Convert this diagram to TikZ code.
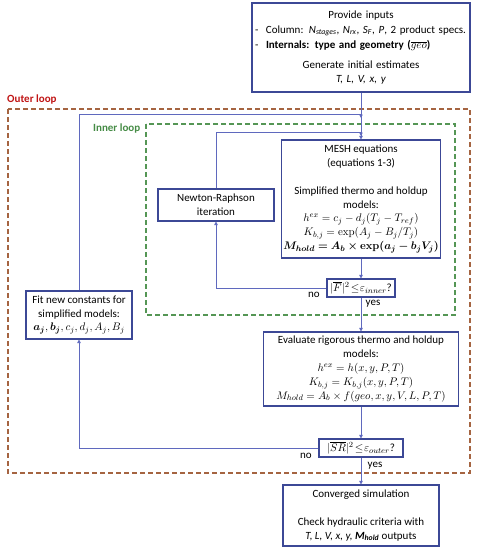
\documentclass[tikz,border=0pt]{standalone}
\usepackage[no-math]{fontspec}
\setmainfont{Carlito}
\usepackage{bm}
\usetikzlibrary{arrows.meta}
\definecolor{boxc}{RGB}{60,72,150}
\definecolor{linec}{RGB}{95,105,190}
\definecolor{outerc}{RGB}{165,100,65}
\definecolor{innerc}{RGB}{85,150,85}
\definecolor{outert}{RGB}{192,20,20}
\definecolor{innert}{RGB}{70,140,70}
\newcommand\dfont{\fontsize{11}{13.8}\selectfont}
\begin{document}
\begin{tikzpicture}[x=1pt,y=-1pt,
  box/.style={draw=boxc,line width=1.1pt,fill=white,inner sep=2pt,align=center,font=\dfont},
  conn/.style={draw=linec,line width=0.8pt,-{Triangle[length=3.5pt,width=3.5pt]}},
  loopbox/.style={line width=1.1pt,dash pattern=on 5pt off 3pt},
  lbl/.style={font=\dfont,inner sep=1pt}]
\useasboundingbox (0,0) rectangle (478,550);
% loop frames
\draw[loopbox,draw=outerc] (8,109) rectangle (470,473);
\draw[loopbox,draw=innerc] (146,124) rectangle (455,315);
\node[font=\dfont\bfseries,text=outert,anchor=west,inner sep=0pt] (olab) at (7,100) {Outer loop};
\node[font=\dfont\bfseries,text=innert,anchor=west,inner sep=0pt] (ilab) at (93,128) {Inner loop};
% boxes
\node[box,minimum width=218,minimum height=89,text width=212pt,align=left] (in) at (361,47.5) {%
  {\centering Provide inputs\par}
  \vspace{1.2pt}
  \makebox[11pt][l]{-}Column: \textit{N}\textsubscript{\textit{stages}}, \textit{N}\textsubscript{\textit{rx}}, \textit{S}\textsubscript{\textit{F}}, \textit{P}, 2 product specs.\par
  \vspace{1.2pt}
  \makebox[11pt][l]{-}\textbf{Internals: type and geometry ($\overline{geo}$)}\par
  \vspace{7pt}
  {\centering Generate initial estimates\\ \textit{T, L, V, x, y}\par}
  \vspace*{8pt}};
\node[box,minimum width=154,minimum height=118] (mesh) at (361,199) {MESH equations\\(equations 1-3)\\[13.8pt]Simplified thermo and holdup\\models:\\$h^{ex} = c_j - d_j(T_j - T_{ref})$\\$K_{b,j} = \exp(A_j - B_j/T_j)$\\$\bm{M_{hold} = A_b\times \exp(a_j - b_jV_j)}$};
\node[box,minimum width=116,minimum height=32] (nr) at (216,205) {Newton-Raphson\\iteration};
\node[box,minimum width=68,minimum height=18,inner sep=1pt] (itest) at (361,288) {$|\overline{F}|^{2}\mkern2mu{\le}\mkern1mu\varepsilon_{inner}$?};
\node[box,minimum width=195,minimum height=74] (eval) at (361,369) {Evaluate rigorous thermo and holdup\\models:\\$h^{ex} = h(x,y,P,T)$\\$K_{b,j} = K_{b,j}(x,y,P,T)$\\$M_{hold} = A_b\times f(geo,x,y,V,L,P,T)$};
\node[box,minimum width=84,minimum height=18,inner sep=1pt] (otest) at (361,448) {$|\overline{SR}|^{2}\mkern2mu{\le}\mkern1mu\varepsilon_{outer}$?};
\node[box,minimum width=156,minimum height=61] (conv) at (361,515.5) {Converged simulation\\[13.8pt]Check hydraulic criteria with\\\textit{T, L, V, x, y, }\textbf{\textit{M}\textsubscript{\textit{hold}}} outputs};
\node[box,minimum width=106,minimum height=48] (fit) at (79,315) {Fit new constants for\\simplified models:\\$\bm{a_j}, \bm{b_j}, c_j, d_j, A_j, B_j$};
% connectors
\coordinate (j1) at (361,114);
\coordinate (j1b) at (361,118);
\coordinate (j2) at (361,132);
\coordinate (j2b) at (361,136);
\draw[conn] (in.south) -- (mesh.north);
\draw[conn] (otest.west) -| (fit.south);
\draw[conn] (fit.north) |- (j1) -- (j1b);
\draw[conn] (nr.north) |- (j2) -- (j2b);
\draw[conn] (mesh.south) -- (itest.north);
\draw[conn] (itest.west) -| (nr.south);
\draw[conn] (itest.south) -- (eval.north);
\draw[conn] (eval.south) -- (otest.north);
\draw[conn] (otest.south) -- (conv.north);
% labels
\node[lbl] (no1) at (314,295) {no};
\node[lbl] (yes1) at (373,304) {yes};
\node[lbl] (no2) at (306,456) {no};
\node[lbl] (yes2) at (375,466) {yes};
\end{tikzpicture}
\end{document}
